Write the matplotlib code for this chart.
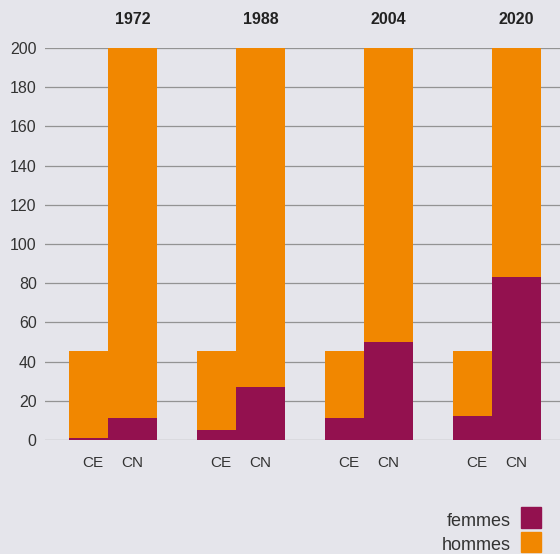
import matplotlib
matplotlib.use("Agg")
import matplotlib.pyplot as plt
from matplotlib.patches import Rectangle

plt.rcParams['font.family'] = ['Liberation Sans', 'DejaVu Sans']

# données
years = ['1972', '1988', '2004', '2020']
ce_femmes = [1, 5, 11, 12]
ce_hommes = [44.5, 40.5, 34.5, 33.5]
cn_femmes = [11, 27, 50, 83]
cn_hommes = [189, 173, 150, 117]
yticks = [0, 20, 40, 60, 80, 100, 120, 140, 160, 180, 200]

c_f = '#93114F'
c_h = '#F18700'
bg = '#E5E5EB'
txt = '#333333'

fig = plt.figure(figsize=(5.6, 5.54), dpi=100, facecolor=bg)
ax = fig.add_axes([45/560, 114/554, 515/560, 392/554], facecolor=bg)

w_ce = 39/128
w_cn = 49/128
x = range(len(years))
x_ce = [i - w_ce/2 for i in x]
x_cn = [i + w_cn/2 for i in x]

ax.bar(x_ce, ce_femmes, width=w_ce, color=c_f, zorder=3)
ax.bar(x_ce, ce_hommes, width=w_ce, bottom=ce_femmes, color=c_h, zorder=3)
ax.bar(x_cn, cn_femmes, width=w_cn, color=c_f, zorder=3)
ax.bar(x_cn, cn_hommes, width=w_cn, bottom=cn_femmes, color=c_h, zorder=3)

ax.set_xlim((45-108)/128, (560-108)/128)
ax.set_ylim(0, 200)
for s in ax.spines.values():
    s.set_visible(False)
ax.set_yticks(yticks)
ax.yaxis.grid(True, color='#939393', linewidth=0.9, zorder=0)
ax.tick_params(axis='y', length=0, pad=6, labelsize=11.5, labelcolor=txt)
ax.set_xticks([])

for i in x:
    ax.text(x_ce[i] + 4/128, -11.5, 'CE', ha='center', va='center', fontsize=11, color=txt)
    ax.text(x_cn[i], -11.5, 'CN', ha='center', va='center', fontsize=11, color=txt)
    ax.text(x_cn[i], 214.5, years[i], ha='center', va='center', fontsize=11.5,
            fontweight='bold', color='#222222', clip_on=False)

# légende
fig.patches.append(Rectangle((521/560, 26/554), 20/560, 21/554, color=c_f,
                             transform=fig.transFigure))
fig.patches.append(Rectangle((521/560, 2/554), 20/560, 20/554, color=c_h,
                             transform=fig.transFigure))
fig.text(511/560, 33/554, 'femmes', ha='right', va='center', fontsize=13, color=txt)
fig.text(511/560, 9/554, 'hommes', ha='right', va='center', fontsize=13, color=txt)

fig.savefig('out.png', dpi=100, facecolor=bg)
